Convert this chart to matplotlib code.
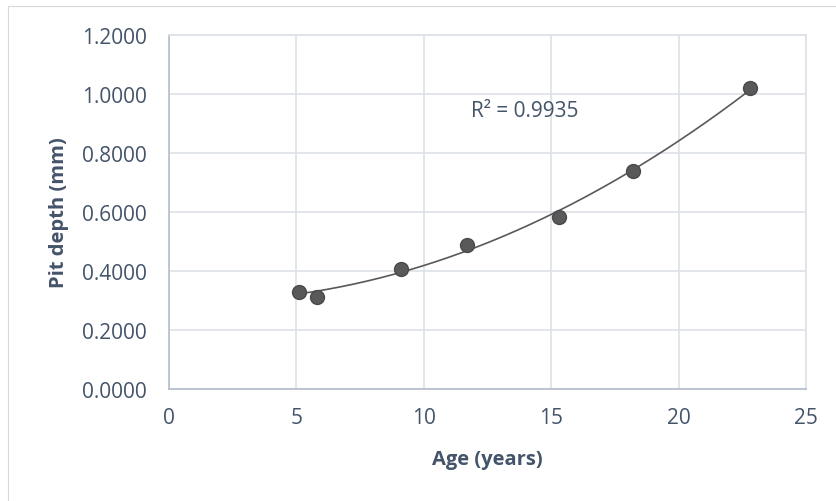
import numpy as np
import matplotlib.pyplot as plt
from matplotlib.patches import Rectangle

# data
age = [5.1, 5.8, 9.1, 11.7, 15.3, 18.2, 22.8]
depth = [0.330, 0.312, 0.408, 0.487, 0.584, 0.739, 1.019]
r2_label = "R² = 0.9935"
xticks = [0, 5, 10, 15, 20, 25]
yticks = [0.0, 0.2, 0.4, 0.6, 0.8, 1.0, 1.2]

text_col = '#44546A'
grid_col = '#DDE1E8'
axis_col = '#B4BCCD'
mark_col = '#595959'

plt.rcParams['font.family'] = ['Open Sans', 'DejaVu Sans']

fig = plt.figure(figsize=(8.37, 5.02), dpi=100)
# chart area border (runs off the right and bottom edge)
fig.patches.append(Rectangle((8 / 837, -0.05), 1.0, 1 - 7 / 502 + 0.05,
                             transform=fig.transFigure, fill=False,
                             edgecolor='#D9D9D9', linewidth=0.8))

ax = fig.add_axes([169 / 837, 1 - 390 / 502, 637 / 837, 354 / 502])

# 2nd order polynomial trendline over the data range
coef = np.polyfit(age, depth, 2)
xs = np.linspace(min(age), max(age), 200)
ax.plot(xs, np.polyval(coef, xs), color=mark_col, linewidth=1.2, zorder=3)
ax.plot(age, depth, 'o', color=mark_col, markeredgecolor='#4a4a4a',
        markersize=10, zorder=4)

ax.text(11.87, 0.945, r2_label, color=text_col, fontsize=15, va='center')

ax.set_xlim(0, 25)
ax.set_ylim(0, 1.2)
ax.set_xticks(xticks)
ax.set_yticks(yticks)
ax.set_yticklabels([f'{v:.4f}' for v in yticks])
ax.tick_params(length=0, colors=text_col, labelsize=15)
ax.tick_params(axis='y', pad=16)
ax.tick_params(axis='x', pad=13)
ax.grid(True, color=grid_col, linewidth=1.2)
ax.set_axisbelow(True)

for s in ['top', 'right']:
    ax.spines[s].set_color(grid_col)
    ax.spines[s].set_linewidth(1.2)
for s in ['left', 'bottom']:
    ax.spines[s].set_color(axis_col)
    ax.spines[s].set_linewidth(1.2)

ax.set_xlabel('Age (years)', color=text_col, fontsize=14.5, fontweight='bold', va='center')
ax.set_ylabel('Pit depth (mm)', color=text_col, fontsize=14.5, fontweight='bold', va='center')
ax.xaxis.set_label_coords(0.5, (390 - 460) / 354)
ax.yaxis.set_label_coords((59 - 169) / 637, 0.5)

fig.savefig('out.png', dpi=100)
